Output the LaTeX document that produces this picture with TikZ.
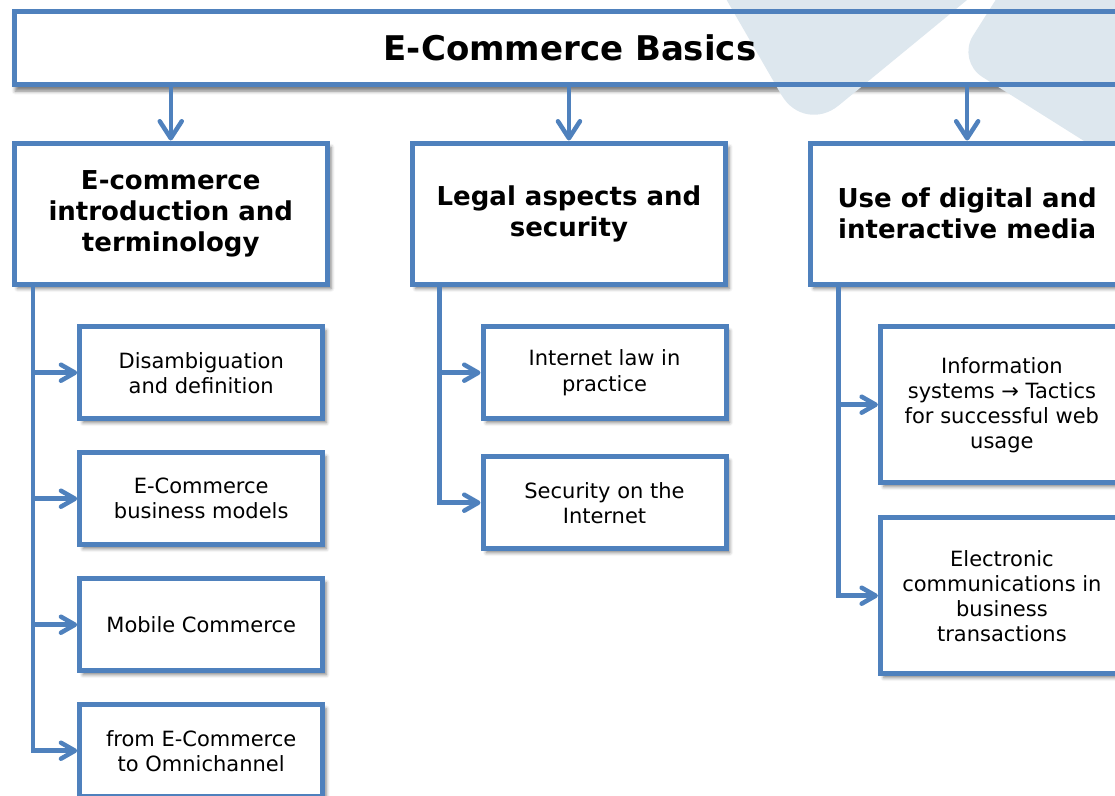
\documentclass[tikz,border=0pt]{standalone}
\usepackage{fontspec}
\setmainfont{DejaVu Sans}
\usetikzlibrary{positioning,arrows.meta,shadows.blur,backgrounds}
\definecolor{boxblue}{HTML}{4F81BD}
\definecolor{markgrey}{HTML}{DDE7EE}
\tikzset{box shadow/.style={blur shadow={shadow xshift=3.5pt,shadow yshift=-4pt,shadow blur radius=3.5pt,shadow opacity=50}},
title node/.style={draw=boxblue,line width=5pt,minimum width=1112pt,minimum height=73pt,font=\fontsize{34}{40}\selectfont\bfseries},
main node/.style={draw=boxblue,fill=white,line width=5pt,minimum width=313.5pt,minimum height=141.5pt,align=center,font=\fontsize{26}{31}\selectfont\bfseries,box shadow},
sub node/.style={draw=boxblue,fill=white,line width=5pt,minimum width=243pt,minimum height=92pt,align=center,font=\fontsize{21}{25}\selectfont,box shadow},
link/.style={draw=boxblue,line width=4.5pt,-{Straight Barb[length=14pt,width=16pt,round]}},
link down/.style={link,-{Straight Barb[length=17pt,width=22pt,round]}},
branch/.style={to path={|- (\tikztotarget)}},
}

\begin{document}
\begin{tikzpicture}[x=1pt,y=-1pt]
		\useasboundingbox (0,0) rectangle (1115,795);
		\clip (0,0) rectangle (1115,795);
		\node[title node] (0) at (570,48) {E-Commerce Basics};
		
		\node[main node] (1) [below=53.5pt of 0.south west,anchor=north west] {E-commerce\\introduction and\\terminology};
		\node[main node] (2) [right=79.7pt of 1] {Legal aspects and\\security};
		\node[main node] (3) [right=79.7pt of 2] {Use of digital and\\interactive media};
		
		\node[sub node] (11) [below right=37.2pt and 65.7pt of 1.south west] {Disambiguation\\and definition};
		\node[sub node] (12) [below=29pt of 11] {E-Commerce\\business models};
		\node[sub node] (13) [below=29pt of 12] {Mobile Commerce};
		\node[sub node] (14) [below=29pt of 13] {from E-Commerce\\to Omnichannel};
		
		\node[sub node] (21) [below right=37.2pt and 70.8pt of 2.south west] {Internet law in\\practice};
		\node[sub node] (22) [below=33pt of 21] {Security on the\\Internet};
		
		\node[sub node,minimum height=156pt] (31) [below right=37.2pt and 70pt of 3.south west] {Information\\systems → Tactics\\for successful web\\usage};
		\node[sub node,minimum height=156pt] (32) [below=30pt of 31] {Electronic\\communications in\\business\\transactions};
		
		\coordinate (1b) at ([xshift=21.5pt]1.south west);
		\coordinate (2b) at ([xshift=29.8pt]2.south west);
		\coordinate (3b) at ([xshift=30.8pt]3.south west);
		
		\path
		(0.south -| 1.north) edge[link down] (1)
		(0.south -| 2.north) edge[link down] (2)
		(0.south -| 3.north) edge[link down] (3)
		;
		\path
		(1b) edge[link,branch] (11)
		(1b) edge[link,branch] (12)
		(1b) edge[link,branch] (13)
		(1b) edge[link,branch] (14)
		(2b) edge[link,branch] (21)
		(2b) edge[link,branch] (22)
		(3b) edge[link,branch] (31)
		(3b) edge[link,branch] (32)
		;
		
		% watermark behind the title
		\begin{scope}[on background layer]
		\path[box shadow] (0.south west) rectangle (0.north east);
		\fill[white] (0.south west) rectangle (0.north east);
		\fill[markgrey,rounded corners=45pt] (692,-60) -- (804,134) -- (1040,-60) -- cycle;
		\fill[markgrey,rounded corners=30pt] (1050,-86) -- (957,61) -- (1200,214) -- (1250,-100) -- cycle;
		\end{scope}
		\end{tikzpicture}
\end{document}
